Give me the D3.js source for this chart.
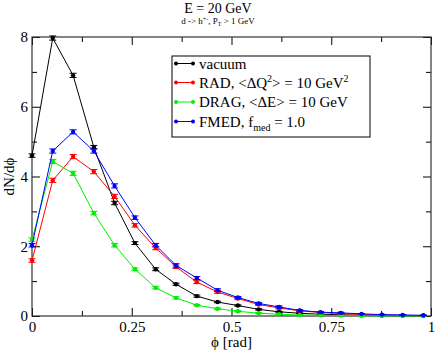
<!DOCTYPE html>
<html>
<head>
<meta charset="utf-8">
<script src="https://cdn.jsdelivr.net/npm/d3@7"></script>
<style>
  body { margin: 0; background: #fff; }
  svg text, svg tspan { font-family: "Liberation Serif", "DejaVu Serif", serif !important; }
</style>
</head>
<body>
<div id="graph"></div>
<script>
// phi bins and dN/dphi for each case
let phi = [0, 0.052, 0.103, 0.155, 0.207, 0.258, 0.31, 0.361, 0.413, 0.465,
           0.516, 0.568, 0.619, 0.671, 0.723, 0.774, 0.826, 0.877, 0.929, 0.981];

let vacuum = [4.6, 7.97, 6.9, 4.84, 3.24, 2.09, 1.34, 0.91, 0.57, 0.40,
              0.30, 0.19, 0.12, 0.08, 0.05, 0.035, 0.02, 0.012, 0.008, 0.005];
let rad    = [1.59, 3.89, 4.57, 4.14, 3.43, 2.60, 1.95, 1.41, 0.97, 0.69,
              0.50, 0.33, 0.23, 0.15, 0.10, 0.07, 0.045, 0.03, 0.018, 0.01];
let drag   = [2.19, 4.43, 4.09, 2.95, 2.03, 1.34, 0.81, 0.52, 0.31, 0.21,
              0.135, 0.08, 0.05, 0.03, 0.02, 0.012, 0.008, 0.005, 0.003, 0.002];
let fmed   = [2.03, 4.73, 5.28, 4.73, 3.73, 2.82, 2.03, 1.45, 1.09, 0.74,
              0.53, 0.36, 0.26, 0.16, 0.11, 0.09, 0.06, 0.04, 0.03, 0.02];

let vacuumErr = [0.05, 0.06, 0.06, 0.05, 0.05, 0.04, 0.04, 0.03, 0.03, 0.02,
                 0.02, 0.02, 0.015, 0.01, 0.01, 0.01, 0.01, 0.01, 0.01, 0.01];
let radErr    = [0.05, 0.06, 0.06, 0.06, 0.06, 0.05, 0.05, 0.05, 0.04, 0.04,
                 0.03, 0.03, 0.03, 0.02, 0.02, 0.02, 0.01, 0.01, 0.01, 0.01];
let dragErr   = [0.05, 0.06, 0.06, 0.05, 0.05, 0.04, 0.03, 0.03, 0.02, 0.02,
                 0.02, 0.015, 0.01, 0.01, 0.01, 0.01, 0.01, 0.01, 0.01, 0.01];
let fmedErr   = [0.05, 0.06, 0.06, 0.06, 0.06, 0.05, 0.05, 0.05, 0.04, 0.04,
                 0.03, 0.03, 0.03, 0.02, 0.02, 0.02, 0.01, 0.01, 0.01, 0.01];

let xTicks = [0, 0.25, 0.5, 0.75, 1];
let xMinor = [0.125, 0.375, 0.625, 0.875];
let yTicks = [0, 2, 4, 6, 8];
let yMinor = [1, 3, 5, 7];

let seriesNames = ["vacuum", "RAD", "DRAG", "FMED"];
let seriesColors = ["#000000", "#ff0000", "#00ee00", "#0000ff"];

let svgWidth = 436;
let svgHeight = 352;
let margin = { top: 37, right: 5, bottom: 36, left: 32 };
let width = svgWidth - margin.left - margin.right;
let height = svgHeight - margin.top - margin.bottom;

let svg = d3.select("#graph")
  .append("svg")
  .attr("width", svgWidth)
  .attr("height", svgHeight)
  .style("font-family", "'Liberation Serif', serif");

let chartGroup = svg.append("g")
  .attr("transform", `translate(${margin.left}, ${margin.top})`);

let xScale = d3.scaleLinear().domain([0, 1]).range([0, width]);
let yScale = d3.scaleLinear().domain([0, 8]).range([height, 0]);

// axes, ticks pointing inward
function styleAxis(g) {
  g.attr("font-family", null);
  g.select(".domain").remove();
  g.selectAll("line").attr("stroke", "#000");
  g.selectAll("text").attr("font-size", "15px").attr("fill", "#000");
}

chartGroup.append("g")
  .attr("transform", `translate(0, ${height})`)
  .call(d3.axisBottom(xScale).tickValues(xTicks).tickSize(-8)
    .tickFormat(d => d3.format("")(d)))
  .call(styleAxis)
  .selectAll("text").attr("y", 5).attr("dy", "0.71em");
chartGroup.append("g")
  .attr("transform", `translate(0, ${height})`)
  .call(d3.axisBottom(xScale).tickValues(xMinor).tickSize(-5).tickFormat(""))
  .call(styleAxis);
chartGroup.append("g")
  .call(d3.axisTop(xScale).tickValues(xTicks).tickSize(-8).tickFormat(""))
  .call(styleAxis);
chartGroup.append("g")
  .call(d3.axisTop(xScale).tickValues(xMinor).tickSize(-5).tickFormat(""))
  .call(styleAxis);

chartGroup.append("g")
  .call(d3.axisLeft(yScale).tickValues(yTicks).tickSize(-8))
  .call(styleAxis)
  .selectAll("text").attr("x", -4);
chartGroup.append("g")
  .call(d3.axisLeft(yScale).tickValues(yMinor).tickSize(-5).tickFormat(""))
  .call(styleAxis);
chartGroup.append("g")
  .attr("transform", `translate(${width}, 0)`)
  .call(d3.axisRight(yScale).tickValues(yTicks).tickSize(-8).tickFormat(""))
  .call(styleAxis);
chartGroup.append("g")
  .attr("transform", `translate(${width}, 0)`)
  .call(d3.axisRight(yScale).tickValues(yMinor).tickSize(-5).tickFormat(""))
  .call(styleAxis);

// frame
chartGroup.append("rect")
  .attr("width", width)
  .attr("height", height)
  .attr("fill", "none")
  .attr("stroke", "#333")
  .attr("stroke-width", 1.2);

// series
let allData = [
  { vals: vacuum, errs: vacuumErr },
  { vals: rad, errs: radErr },
  { vals: drag, errs: dragErr },
  { vals: fmed, errs: fmedErr }
];

let line = d3.line()
  .x(d => xScale(d.x))
  .y(d => yScale(d.y));

allData.forEach(function(s, i) {
  let pts = phi.map((p, j) => ({ x: p, y: s.vals[j], e: s.errs[j] }));
  let color = seriesColors[i];
  let g = chartGroup.append("g");

  g.append("path")
    .datum(pts)
    .attr("d", line)
    .attr("fill", "none")
    .attr("stroke", color)
    .attr("stroke-width", 1);

  // error bars
  g.selectAll(".err")
    .data(pts)
    .enter()
    .append("path")
    .attr("d", d => {
      let x = xScale(d.x), y1 = yScale(d.y + d.e), y2 = yScale(d.y - d.e);
      return `M${x - 3.5},${y1}H${x + 3.5}M${x},${y1}V${y2}M${x - 3.5},${y2}H${x + 3.5}`;
    })
    .attr("stroke", color)
    .attr("stroke-width", 1)
    .attr("fill", "none");

  g.selectAll("circle")
    .data(pts)
    .enter()
    .append("circle")
    .attr("cx", d => xScale(d.x))
    .attr("cy", d => yScale(d.y))
    .attr("r", 2.2)
    .attr("fill", color);
});

// legend
let legend = svg.append("g");
legend.append("rect")
  .attr("x", 172).attr("y", 56)
  .attr("width", 198).attr("height", 81)
  .attr("fill", "#fff").attr("stroke", "#000").attr("stroke-width", 1);

let legendRows = [63.5, 82.5, 102, 121.5];
let legendTexts = [
  [["vacuum", ""]],
  [["RAD, <ΔQ", ""], ["2", "sup"], ["> = 10 GeV", ""], ["2", "sup"]],
  [["DRAG, <ΔE> = 10 GeV", ""]],
  [["FMED, f", ""], ["med", "sub"], [" = 1.0", ""]]
];
seriesNames.forEach(function(name, i) {
  let y = legendRows[i];
  legend.append("line")
    .attr("x1", 176).attr("x2", 193).attr("y1", y).attr("y2", y)
    .attr("stroke", seriesColors[i]).attr("stroke-width", 1);
  [176, 193].forEach(x => legend.append("circle")
    .attr("cx", x).attr("cy", y).attr("r", 2).attr("fill", seriesColors[i]));
  let t = legend.append("text")
    .attr("x", 199).attr("y", y + 5)
    .attr("font-size", "15px");
  let prevKind = "";
  legendTexts[i].forEach(function(part) {
    let ts = t.append("tspan").text(part[0]);
    if (part[1] === "sup") ts.attr("font-size", "10px").attr("dy", -6);
    if (part[1] === "sub") ts.attr("font-size", "10px").attr("dy", 4);
    if (part[1] === "" && prevKind === "sup") ts.attr("dy", 6);
    if (part[1] === "" && prevKind === "sub") ts.attr("dy", -4);
    prevKind = part[1];
  });
});

// titles
svg.append("text")
  .attr("x", 218).attr("y", 13)
  .attr("text-anchor", "middle")
  .attr("font-size", "14px")
  .text("E = 20 GeV");

let sub = svg.append("text")
  .attr("x", 218).attr("y", 24)
  .attr("text-anchor", "middle")
  .attr("font-size", "9px");
sub.append("tspan").text("d -> h");
sub.append("tspan").text("+-").attr("font-size", "6px").attr("dy", -3);
sub.append("tspan").text(", P").attr("dy", 3);
sub.append("tspan").text("T").attr("font-size", "6px").attr("dy", 2);
sub.append("tspan").text(" > 1 GeV").attr("dy", -2);

// axis labels
svg.append("text")
  .attr("transform", `translate(14, ${margin.top + height / 2}) rotate(-90)`)
  .attr("text-anchor", "middle")
  .attr("font-size", "15px")
  .text("dN/dϕ");

svg.append("text")
  .attr("x", margin.left + width / 2)
  .attr("y", 347)
  .attr("text-anchor", "middle")
  .attr("font-size", "15px")
  .text("ϕ [rad]");
</script>
</body>
</html>
